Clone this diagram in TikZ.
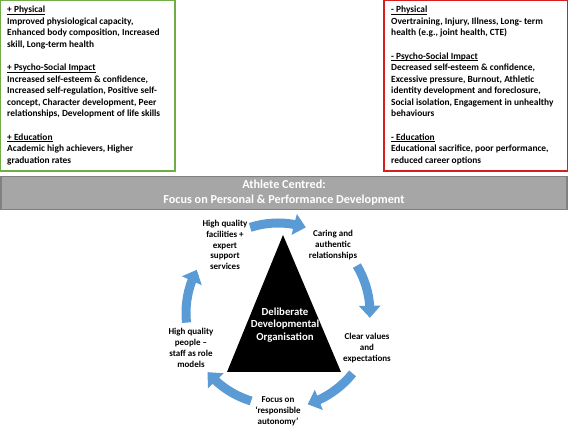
\documentclass[tikz,border=0pt]{standalone}
\usepackage{fontspec}
\setmainfont{Carlito}
\usetikzlibrary{arrows.meta,bending}
\definecolor{posgreen}{RGB}{112,173,71}
\definecolor{negred}{RGB}{214,30,30}
\definecolor{bannergray}{RGB}{166,166,166}
\definecolor{bannerline}{RGB}{128,128,128}
\definecolor{cycleblue}{RGB}{91,155,213}
\newcommand{\hdline}[1]{\setbox0\hbox{#1}\rlap{\rule[-1.6pt]{\wd0}{0.6pt}}\box0}
\tikzset{
  listtext/.style={anchor=north west, align=left, inner sep=0pt,
    font=\bfseries\fontsize{9.4}{11.5}\selectfont},
  cyclelabel/.style={align=center, inner sep=1pt,
    font=\bfseries\fontsize{9}{10.8}\selectfont},
  cyclearrow/.style={cycleblue, line width=9pt,
    -{Triangle[width=21pt,length=12pt,flex]}},
}
\begin{document}
\begin{tikzpicture}[x=1pt,y=1pt]
      \useasboundingbox (0,0) rectangle (568,427);
      % outcome boxes
      \draw[posgreen, line width=1.2pt] (0.6,256) rectangle (175,426.4);
      \draw[negred, line width=1.2pt] (384,256) rectangle (567.4,426.4);
      \node[listtext] (plus) at (7,420.8) {%
        \hdline{+ Physical}\\
        Improved physiological capacity,\\
        Enhanced body composition, Increased\\
        skill, Long-term health\\[12pt]
        \hdline{+ Psycho-Social Impact}\\
        Increased self-esteem \& confidence,\\
        Increased self-regulation, Positive self-\\
        concept, Character development, Peer\\
        relationships, Development of life skills\\[12pt]
        \hdline{+ Education}\\
        Academic high achievers, Higher\\
        graduation rates};
      \node[listtext] (minus) at (391,420.8) {%
        \hdline{- Physical}\\
        Overtraining, Injury, Illness, Long- term\\
        health (e.g., joint health, CTE)\\[12pt]
        \hdline{- Psycho-Social Impact}\\
        Decreased self-esteem \& confidence,\\
        Excessive pressure, Burnout, Athletic\\
        identity development and foreclosure,\\
        Social isolation, Engagement in unhealthy\\
        behaviours\\[12pt]
        \hdline{- Education}\\
        Educational sacrifice, poor performance,\\
        reduced career options};
      % banner
      \node[fill=bannergray, draw=bannerline, line width=1.5pt,
        minimum width=566pt, minimum height=33pt, align=center, text=white,
        font=\bfseries\fontsize{12.2}{15}\selectfont] (banner) at (284,234)
        {Athlete Centred:\\Focus on Personal \& Performance Development};
      % triangle
      \fill[black] (283,192) -- (341,55) -- (227,55) -- cycle;
      \node[text=white, align=center, font=\bfseries\fontsize{10.8}{12.8}\selectfont]
        (core) at (285,102) {Deliberate\\Developmental\\Organisation};
      % cycle
      \coordinate (hub) at (278,114);
      \draw
        (225,182) node[cyclelabel] (facilities){High quality\\facilities +\\expert\\support\\services}
        (333,182) node[cyclelabel] (caring){Caring and\\authentic\\relationships}
        (367,79) node[cyclelabel] (values){Clear values\\and\\expectations}
        (278,16) node[cyclelabel] (autonomy){Focus on\\`responsible\\autonomy'}
        (191,79) node[cyclelabel] (people){High quality\\people --\\staff as role\\models};
      \begin{scope}[cyclearrow]
        \draw ([shift={(108:90)}]hub) arc[start angle=108, end angle=72, radius=90];
        \draw ([shift={(31:92)}]hub) arc[start angle=31, end angle=-3, radius=92];
        \draw ([shift={(-39:96)}]hub) arc[start angle=-39, end angle=-72, radius=96];
        \draw ([shift={(253:92)}]hub) arc[start angle=253, end angle=220, radius=92];
        \draw ([shift={(186:92)}]hub) arc[start angle=186, end angle=152, radius=92];
      \end{scope}
    \end{tikzpicture}
\end{document}
